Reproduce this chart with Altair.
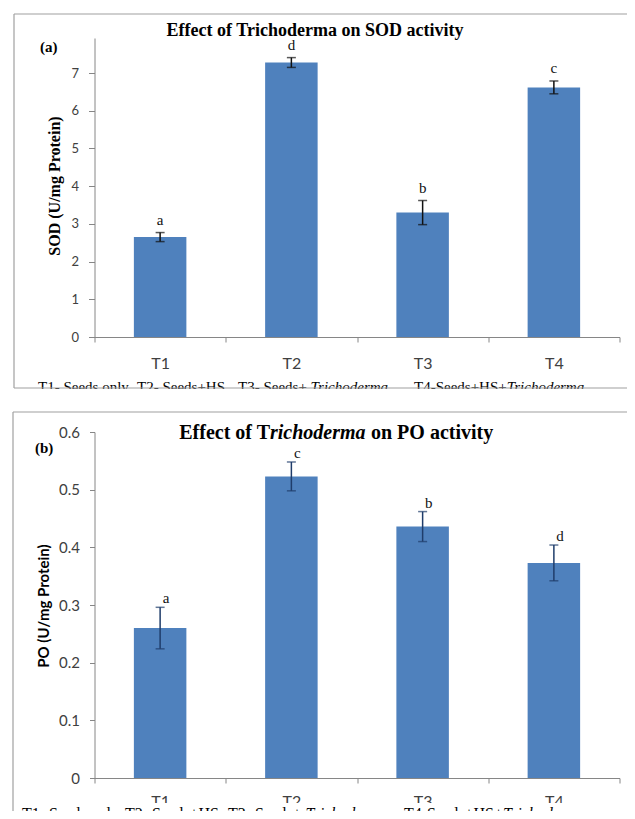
import altair as alt
import pandas as pd

# ---------------- data ----------------
treatments = ["T1", "T2", "T3", "T4"]
sod_mean = [2.65, 7.28, 3.30, 6.62]
sod_err = [0.12, 0.13, 0.32, 0.17]
sod_letters = ["a", "d", "b", "c"]
sod_ticks = [0, 1, 2, 3, 4, 5, 6, 7]

po_mean = [0.260, 0.523, 0.436, 0.373]
po_err = [0.036, 0.025, 0.026, 0.031]
po_letters = ["a", "c", "b", "d"]
po_ticks = [0, 0.1, 0.2, 0.3, 0.4, 0.5, 0.6]

title_a = "Effect of Trichoderma on SOD activity"
title_b_parts = ["Effect of T", "richoderma", "on PO activity"]
ytitle_a = "SOD (U/mg Protein)"
ytitle_b = "PO (U/mg Protein)"
tag_a = "(a)"
tag_b = "(b)"
foot_parts = ["T1- Seeds only", "T2- Seeds+HS", "T3- Seeds+", "Trichoderma",
              "T4-Seeds+HS+", "Trichoderma"]
foot_italic = [False, False, False, True, False, True]

# ---------------- layout / style ----------------
W = 525            # plot width (shared by both panels)
H = 740            # plot area from top of panel (a) axis to baseline of panel (b)
OX, OY = 94.5, 38  # page position of the plot origin
A_BOT = 299        # panel (a) baseline, in plot pixels
B_TOP, B_BOT = 394, 740
YMAX_A, YMAX_B = 7.93, 0.6
BAR = "#4F81BD"
AXC = "#868686"
FRAME = "#a0a0a0"
SERIF = "Liberation Serif"
SANS = "Lato"
foot_x_a = [38, 137, 238, 310.6, 414, 506.7]
foot_x_b = [22, 125, 228, 305.5, 404, 502.9]


def px(x):
    return x - OX


def py(y):
    return y - OY


def deco_text(s, x, y, **kw):
    return alt.Chart(pd.DataFrame({"s": [s]})).mark_text(**kw).encode(
        x=alt.value(px(x)), y=alt.value(py(y)), text="s:N")


def hrule(x1, x2, y):
    return alt.Chart(pd.DataFrame({"d": [0]})).mark_rule(
        color=FRAME, strokeWidth=1.2).encode(
        x=alt.value(px(x1)), x2=alt.value(px(x2)), y=alt.value(py(y)))


def vrule(x, y1, y2):
    return alt.Chart(pd.DataFrame({"d": [0]})).mark_rule(
        color=FRAME, strokeWidth=1.2).encode(
        x=alt.value(px(x)), y=alt.value(py(y1)), y2=alt.value(py(y2)))


def mask(x1, x2, y1, y2):
    return alt.Chart(pd.DataFrame({"d": [0]})).mark_rect(color="white").encode(
        x=alt.value(px(x1)), x2=alt.value(px(x2)),
        y=alt.value(py(y1)), y2=alt.value(py(y2)))


def bars_panel(means, errs, letters, ymax, ticks, yrange, ylab_size, xpad,
               xoffset, ytick, errcolor, let_dx, let_dy, yfmt):
    df = pd.DataFrame({
        "t": treatments,
        "v": means,
        "lo": [m - e for m, e in zip(means, errs)],
        "hi": [m + e for m, e in zip(means, errs)],
        "lab": letters,
    })
    xs = alt.Scale(paddingInner=0, paddingOuter=0)
    xa = alt.Axis(title=None, orient="bottom", offset=xoffset, labelAngle=0,
                  tickBand="extent", labelFont=SANS, labelFontSize=16,
                  labelColor="#404040", labelPadding=xpad, tickSize=5,
                  tickColor=AXC, domainColor=AXC, grid=False)
    ys = alt.Scale(domain=[0, ymax], range=yrange, nice=False, zero=True)
    ya = alt.Axis(title=None, orient="left", values=ticks, labelFont=SANS,
                  labelFontSize=ylab_size, labelColor="#404040",
                  labelPadding=10, tickSize=ytick, tickColor=AXC,
                  domainColor=AXC, grid=False, format=yfmt,
                  labelOverlap=False)
    X = alt.X("t:N", sort=treatments, scale=xs, axis=xa)
    base = alt.Chart(df)
    bars = base.mark_bar(color=BAR, width={"band": 0.4}).encode(
        x=X, y=alt.Y("v:Q", scale=ys, axis=ya))
    err = base.mark_rule(color=errcolor, strokeWidth=1.5).encode(
        x=X, y=alt.Y("lo:Q", scale=ys, axis=ya), y2="hi:Q")
    cap_hi = base.mark_tick(color=errcolor, size=9, thickness=1.5).encode(
        x=X, y=alt.Y("hi:Q", scale=ys, axis=ya))
    cap_lo = base.mark_tick(color=errcolor, size=9, thickness=1.5).encode(
        x=X, y=alt.Y("lo:Q", scale=ys, axis=ya))
    labs = base.mark_text(font=SERIF, fontSize=15, color="#111111",
                          baseline="alphabetic", dx=let_dx, dy=let_dy).encode(
        x=X, y=alt.Y("hi:Q", scale=ys, axis=ya), text="lab:N")
    return alt.layer(bars, err, cap_hi, cap_lo, labs)


# ---------------- panel (a) ----------------
panel_a = bars_panel(sod_mean, sod_err, sod_letters, YMAX_A, sod_ticks,
                     [A_BOT, 0], 13, 13, A_BOT - H, 6, "#111111", 0, -8, "d")
# ---------------- panel (b) ----------------
panel_b = bars_panel(po_mean, po_err, po_letters, YMAX_B, po_ticks,
                     [B_BOT, B_TOP], 15, 10, 0, 5, "#1F3D6B", 6, -4, "~g")

deco = [
    # panel (a) texts
    deco_text(title_a, 315, 36, font=SERIF, fontSize=18, fontWeight="bold",
              align="center", baseline="alphabetic"),
    deco_text(tag_a, 40, 52, font=SERIF, fontSize=15, fontWeight="bold",
              align="left", baseline="alphabetic"),
    deco_text(ytitle_a, 55, 186, font=SERIF, fontSize=16, fontWeight="bold",
              align="center", baseline="middle", angle=270),
]
for s, it, xx in zip(foot_parts, foot_italic, foot_x_a):
    deco.append(deco_text(s, xx, 392, font=SERIF, fontSize=15,
                          fontStyle="italic" if it else "normal",
                          align="left", baseline="alphabetic"))
deco += [
    mask(15, 700, 389, 411),
    hrule(14, 700, 14),
    hrule(14, 700, 388),
    vrule(14, 14, 388),
    # panel (b) texts
    deco_text(title_b_parts[0], 270, 439, font=SERIF, fontSize=20,
              fontWeight="bold", align="right", baseline="alphabetic"),
    deco_text(title_b_parts[1], 270, 439, font=SERIF, fontSize=20,
              fontWeight="bold", fontStyle="italic", align="left",
              baseline="alphabetic"),
    deco_text(title_b_parts[2], 371, 439, font=SERIF, fontSize=20,
              fontWeight="bold", align="left", baseline="alphabetic"),
    deco_text(tag_b, 35, 453, font=SERIF, fontSize=15, fontWeight="bold",
              align="left", baseline="alphabetic"),
    deco_text(ytitle_b, 44, 606, font=SANS, fontSize=15, fontWeight="bold",
              align="center", baseline="middle", angle=270),
    mask(14, 700, 803, 880),
]
for s, it, xx in zip(foot_parts, foot_italic, foot_x_b):
    deco.append(deco_text(s, xx, 819, font=SERIF, fontSize=16,
                          fontStyle="italic" if it else "normal",
                          align="left", baseline="alphabetic"))
deco += [
    hrule(13, 700, 412),
    vrule(13, 412, 880),
]

chart = alt.layer(panel_a, panel_b, *deco).resolve_scale(
    x="independent", y="independent"
).properties(
    width=W, height=H,
    padding={"left": OX - 8, "top": OY - 8, "right": 619 - (OX - 8) - W,
             "bottom": 803 - (OY - 8) - H},
    autosize=alt.AutoSizeParams(type="none"),
    background="white",
).configure_view(stroke=None)

chart.save("out.html", embed_options={"renderer": "svg", "actions": False})
